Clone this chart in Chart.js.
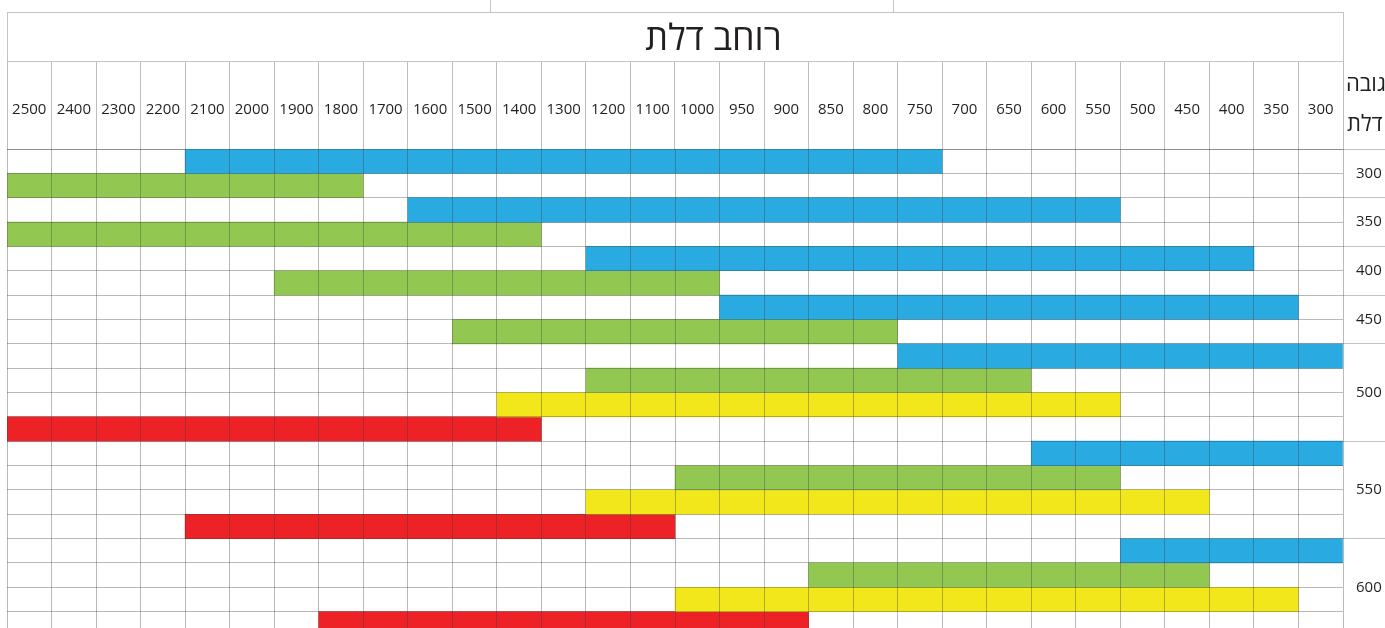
<!DOCTYPE html>
<html>
<head>
<meta charset="utf-8">
<script src="https://cdn.jsdelivr.net/npm/chart.js@4"></script>
<style>
body{margin:0;overflow:hidden;background:#fff;}
</style>
</head>
<body>
<canvas id="chart" width="1420" height="636"></canvas>
<script>
// door widths (columns) and door heights (row groups)
const widths=[300,350,400,450,500,550,600,650,700,750,800,850,900,950,1000,1100,1200,1300,1400,1500,1600,1700,1800,1900,2000,2100,2200,2300,2400,2500];
const heights=[300,350,400,450,500,550,600];
// [narrowest, widest] per height, null = no row
const blue=[[750,2100],[550,1600],[400,1200],[350,950],[300,750],[300,600],[300,500]];
const green=[[1800,2500],[1400,2500],[1000,1900],[800,1500],[650,1200],[550,1000],[450,850]];
const yellow=[null,null,null,null,[550,1400],[450,1200],[350,1000]];
const red=[null,null,null,null,[1400,2500],[1100,2100],[900,1800]];
const titleText='רוחב דלת';
const heightTitle=['גובה','דלת'];

const series=[blue,green,yellow,red];
const colors=['#29abe2','#92c852','#f1e71b','#ec2226'];
const font='"Open Sans", "DejaVu Sans", sans-serif';
const ink='#231f20';
const line='rgba(60,60,60,0.36)';

// one row per (height, series)
const rows=[];
const groupSize=[];
heights.forEach((h,i)=>{
    let n=0;
    series.forEach((s,j)=>{
        if(s[i]){rows.push(h+'-'+j);n++;}
    });
    groupSize.push(n);
});

// group borders and group middles for the height column
const borders=[0];
const middles={};
let pos=0;
heights.forEach((h,i)=>{
    middles[pos+groupSize[i]/2]=String(h);
    pos+=groupSize[i];
    borders.push(pos);
});

const datasets=series.map((s,j)=>({
    data:s.map((r,i)=>r?{y:heights[i]+'-'+j,x:[widths.indexOf(r[0]),widths.indexOf(r[1])+1]}:null).filter(Boolean),
    backgroundColor:colors[j],
    borderWidth:0,
    grouped:false,
    barPercentage:1,
    categoryPercentage:1
}));

const frame={
    id:'frame',
    afterDraw(chart){
        const {ctx,chartArea:a,titleBlock:t}=chart;
        ctx.save();
        ctx.strokeStyle='#c4c4c4';
        ctx.lineWidth=1;
        ctx.strokeRect(a.left+0.5,Math.round(t.top)+0.5,a.right-a.left,Math.round(t.bottom-t.top));
        // bit of the table above
        ctx.beginPath();
        [490,893].forEach(x=>{ctx.moveTo(x+0.5,0);ctx.lineTo(x+0.5,t.top);});
        ctx.stroke();
        // header of the height column, cut by the cell
        ctx.beginPath();
        ctx.rect(a.right+1,t.bottom,200,a.top-t.bottom);
        ctx.clip();
        ctx.fillStyle=ink;
        ctx.font='22px '+font;
        ctx.textBaseline='middle';
        ctx.textAlign='left';
        ctx.fillText(heightTitle[0],a.right+3,t.bottom+24);
        ctx.fillText(heightTitle[1],a.right+4,t.bottom+64);
        ctx.restore();
    }
};

new Chart(document.getElementById('chart'),{
    type:'bar',
    data:{labels:rows,datasets:datasets},
    options:{
        indexAxis:'y',
        responsive:false,
        animation:false,
        layout:{padding:{left:7,top:12,right:0,bottom:0}},
        plugins:{
            legend:{display:false},
            tooltip:{enabled:false},
            title:{
                display:true,
                text:titleText,
                color:ink,
                font:{family:font,size:36,weight:'normal',lineHeight:1},
                padding:{top:10,bottom:3}
            }
        },
        scales:{
            x:{
                type:'linear',min:0,max:widths.length,reverse:true,position:'bottom',
                ticks:{display:false,stepSize:1,maxTicksLimit:100},
                grid:{color:line,drawTicks:false,z:1},
                border:{display:false},
                afterFit:s=>{s.height=0;}
            },
            xh:{
                type:'category',position:'top',labels:widths.map(String),reverse:true,offset:true,
                grid:{offset:true,drawOnChartArea:false,tickLength:88,color:'#bdbdbd'},
                border:{color:'#bdbdbd'},
                ticks:{padding:-58,color:ink,font:{family:font,size:15},maxRotation:0,autoSkip:false},
                afterFit:s=>{s.height=88;}
            },
            y:{
                type:'category',position:'right',offset:true,weight:0,
                grid:{offset:true,color:line,drawTicks:false,z:1},
                ticks:{display:false},
                border:{display:false},
                afterFit:s=>{s.width=0;}
            },
            yb:{
                type:'linear',position:'right',min:0,max:rows.length,reverse:true,weight:1,offset:false,
                afterBuildTicks:s=>{s.ticks=borders.map(v=>({value:v}));},
                ticks:{display:false},
                grid:{offset:false,drawOnChartArea:false,tickLength:77,color:'#c4c4c4'},
                border:{display:false},
                afterFit:s=>{s.width=0;s.paddingTop=0;s.paddingBottom=0;}
            },
            yl:{
                type:'linear',position:'right',min:0,max:rows.length,reverse:true,weight:2,offset:false,
                afterBuildTicks:s=>{s.ticks=Object.keys(middles).map(Number).map(v=>({value:v}));},
                ticks:{callback:v=>middles[v],padding:13,color:ink,font:{family:font,size:15},autoSkip:false},
                grid:{offset:false,display:false,drawTicks:false},
                border:{display:false},
                afterFit:s=>{s.width=77;s.paddingTop=0;s.paddingBottom=0;}
            }
        }
    },
    plugins:[frame]
});
</script>
</body>
</html>
